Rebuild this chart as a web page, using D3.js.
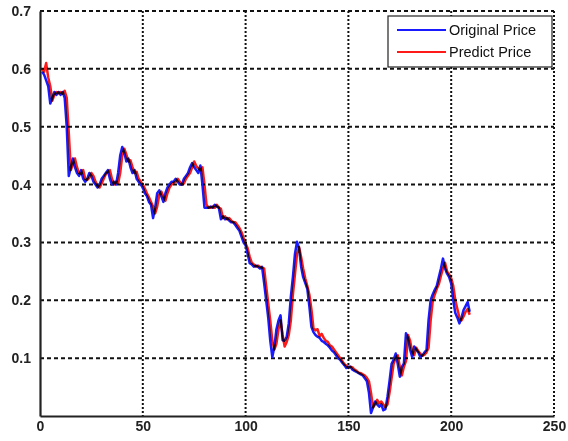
<!DOCTYPE html>
<html>
  <head>
    <meta charset="utf-8" />
    <title>Original vs Predict Price</title>
    <script src="https://d3js.org/d3.v7.min.js"></script>
    <style>
      body {
        margin: 0;
        background: #fff;
        font-family: "Liberation Sans", Arial, sans-serif;
      }
      svg {
        display: block;
      }
    </style>
  </head>
  <body>
    <svg width="568" height="441"></svg>

    <script>
      // values, day 1..209
      const original = [
        0.595, 0.59, 0.58, 0.57, 0.54, 0.55, 0.56, 0.555, 0.56, 0.555,
        0.56, 0.55, 0.50, 0.415, 0.43, 0.445, 0.43, 0.42, 0.415, 0.425,
        0.41, 0.405, 0.41, 0.42, 0.415, 0.405, 0.40, 0.395, 0.40, 0.41,
        0.415, 0.42, 0.425, 0.41, 0.40, 0.405, 0.40, 0.42, 0.45, 0.465,
        0.455, 0.44, 0.445, 0.43, 0.42, 0.425, 0.41, 0.405, 0.40, 0.395,
        0.385, 0.38, 0.37, 0.365, 0.342, 0.36, 0.385, 0.39, 0.38, 0.37,
        0.385, 0.395, 0.40, 0.405, 0.405, 0.41, 0.405, 0.40, 0.40, 0.41,
        0.415, 0.42, 0.43, 0.437, 0.43, 0.425, 0.42, 0.433, 0.40, 0.36,
        0.36, 0.36, 0.362, 0.36, 0.365, 0.362, 0.36, 0.34, 0.345, 0.34,
        0.342, 0.338, 0.335, 0.335, 0.33, 0.325, 0.32, 0.31, 0.30, 0.295,
        0.28, 0.264, 0.262, 0.258, 0.26, 0.258, 0.255, 0.258, 0.23, 0.20,
        0.17, 0.13, 0.102, 0.12, 0.15, 0.165, 0.174, 0.131, 0.13, 0.137,
        0.16, 0.206, 0.24, 0.28, 0.301, 0.29, 0.258, 0.24, 0.23, 0.22,
        0.19, 0.154, 0.145, 0.14, 0.137, 0.135, 0.13, 0.128, 0.125, 0.122,
        0.118, 0.113, 0.11, 0.105, 0.10, 0.097, 0.092, 0.088, 0.083, 0.085,
        0.085, 0.08, 0.078, 0.076, 0.074, 0.072, 0.07, 0.065, 0.06, 0.04,
        0.005, 0.015, 0.025, 0.02, 0.016, 0.02, 0.01, 0.012, 0.033, 0.06,
        0.09, 0.097, 0.108, 0.09, 0.068, 0.085, 0.091, 0.143, 0.135, 0.115,
        0.102, 0.12, 0.115, 0.11, 0.102, 0.105, 0.11, 0.114, 0.166, 0.20,
        0.21, 0.218, 0.225, 0.24, 0.255, 0.272, 0.255, 0.246, 0.24, 0.229,
        0.20, 0.178, 0.17, 0.16, 0.17, 0.183, 0.19, 0.197, 0.18
      ];

      const predict = [
        0.60, 0.595, 0.61, 0.585, 0.57, 0.545, 0.555, 0.56, 0.558, 0.56,
        0.557, 0.562, 0.55, 0.49, 0.425, 0.435, 0.445, 0.43, 0.42, 0.418,
        0.425, 0.41, 0.408, 0.412, 0.42, 0.415, 0.405, 0.398, 0.395, 0.402,
        0.41, 0.418, 0.422, 0.425, 0.41, 0.40, 0.405, 0.402, 0.42, 0.45,
        0.462, 0.452, 0.44, 0.442, 0.43, 0.42, 0.422, 0.41, 0.405, 0.40,
        0.393, 0.385, 0.378, 0.37, 0.362, 0.35, 0.362, 0.382, 0.388, 0.38,
        0.372, 0.385, 0.395, 0.40, 0.403, 0.405, 0.41, 0.405, 0.40, 0.402,
        0.41, 0.415, 0.42, 0.43, 0.44, 0.432, 0.428, 0.425, 0.43, 0.40,
        0.365, 0.36, 0.36, 0.362, 0.36, 0.365, 0.36, 0.358, 0.342, 0.345,
        0.34, 0.342, 0.338, 0.335, 0.335, 0.33, 0.325, 0.318, 0.308, 0.298,
        0.29, 0.275, 0.265, 0.262, 0.258, 0.26, 0.258, 0.256, 0.255, 0.225,
        0.195, 0.165, 0.13, 0.115, 0.125, 0.15, 0.165, 0.14, 0.12, 0.128,
        0.14, 0.165, 0.21, 0.245, 0.28, 0.292, 0.275, 0.255, 0.238, 0.225,
        0.21, 0.185, 0.152, 0.148, 0.15, 0.138, 0.142, 0.135, 0.13, 0.128,
        0.122, 0.12, 0.115, 0.11, 0.105, 0.10, 0.095, 0.09, 0.087, 0.083,
        0.085, 0.084, 0.08, 0.078, 0.075, 0.074, 0.072, 0.07, 0.066, 0.06,
        0.04, 0.015, 0.02, 0.028, 0.022, 0.025, 0.02, 0.015, 0.02, 0.04,
        0.065, 0.09, 0.10, 0.105, 0.085, 0.07, 0.085, 0.095, 0.14, 0.13,
        0.112, 0.105, 0.118, 0.112, 0.108, 0.104, 0.106, 0.11, 0.118, 0.165,
        0.198, 0.21, 0.22, 0.228, 0.242, 0.255, 0.265, 0.25, 0.245, 0.238,
        0.225, 0.20, 0.185, 0.17, 0.165, 0.172, 0.18, 0.185, 0.175
      ];

      const xTicks = [0, 50, 100, 150, 200, 250];
      const yTicks = [0.1, 0.2, 0.3, 0.4, 0.5, 0.6, 0.7];
      const seriesNames = ["Original Price", "Predict Price"];
      const seriesColors = ["#1a1aff", "#ff1a1a"];

      const svg = d3.select("svg");
      const margin = { top: 11, right: 14, bottom: 25, left: 40 };
      const width = +svg.attr("width");
      const height = +svg.attr("height");
      const innerWidth = width - margin.left - margin.right;
      const innerHeight = height - margin.top - margin.bottom;

      const g = svg.append("g")
        .attr("transform", `translate(${margin.left}, ${margin.top})`);

      const x = d3.scaleLinear().domain([0, 250]).range([0, innerWidth]);
      const y = d3.scaleLinear().domain([0, 0.7]).range([innerHeight, 0]);

      // grid
      g.append("g")
        .selectAll("line")
        .data(yTicks)
        .join("line")
        .attr("x1", 0)
        .attr("x2", innerWidth)
        .attr("y1", d => y(d))
        .attr("y2", d => y(d))
        .attr("stroke", "#111")
        .attr("stroke-width", 2)
        .attr("stroke-dasharray", "4,3");

      g.append("g")
        .selectAll("line")
        .data(xTicks.slice(1))
        .join("line")
        .attr("x1", d => x(d))
        .attr("x2", d => x(d))
        .attr("y1", 0)
        .attr("y2", innerHeight)
        .attr("stroke", "#111")
        .attr("stroke-width", 2)
        .attr("stroke-dasharray", "2,2");

      // axes
      const xAxis = d3.axisBottom(x).tickValues(xTicks).tickSize(0).tickPadding(5);
      const yAxis = d3.axisLeft(y).tickValues(yTicks).tickSize(0).tickPadding(9)
        .tickFormat(d3.format(".1f"));

      const xg = g.append("g").attr("transform", `translate(0, ${innerHeight})`).call(xAxis);
      const yg = g.append("g").call(yAxis);

      [xg, yg].forEach(a => {
        a.select(".domain").attr("stroke", "#222").attr("stroke-width", 2.2);
        a.selectAll("text")
          .attr("fill", "#222")
          .style("font-family", "'Liberation Sans', Arial, sans-serif")
          .style("font-weight", "bold")
          .style("font-size", "14px");
      });

      // lines
      const line = d3.line()
        .x((d, i) => x(i + 1))
        .y(d => y(d));

      g.append("path")
        .datum(original)
        .attr("fill", "none")
        .attr("stroke", seriesColors[0])
        .attr("stroke-width", 2.5)
        .attr("stroke-linejoin", "round")
        .attr("d", line);

      g.append("path")
        .datum(predict)
        .attr("fill", "none")
        .attr("stroke", seriesColors[1])
        .attr("stroke-width", 2.5)
        .attr("stroke-linejoin", "round")
        .style("mix-blend-mode", "multiply")
        .attr("d", line);

      // legend
      const legend = svg.append("g").attr("transform", "translate(388, 16)");
      legend.append("rect")
        .attr("width", 164)
        .attr("height", 51)
        .attr("fill", "#fff")
        .attr("stroke", "#222")
        .attr("stroke-width", 1.2);

      seriesNames.forEach((name, i) => {
        const row = legend.append("g").attr("transform", `translate(0, ${14 + i * 22})`);
        row.append("line")
          .attr("x1", 9)
          .attr("x2", 58)
          .attr("stroke", seriesColors[i])
          .attr("stroke-width", 2);
        row.append("text")
          .attr("x", 61)
          .attr("y", 5)
          .attr("fill", "#111")
          .style("font-size", "14.5px")
          .text(name);
      });
    </script>
  </body>
</html>
